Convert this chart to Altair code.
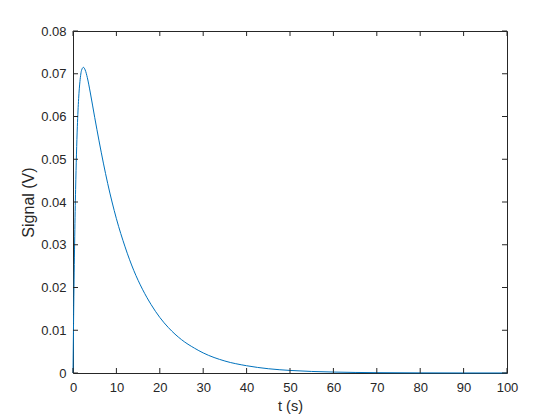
import altair as alt
import pandas as pd

# Data
t_vals = [0, 0.2, 0.4, 0.6, 0.8, 1.0, 1.3, 1.6, 2.0, 2.4, 2.8, 3.3, 4, 5, 6, 7, 8, 9, 10,
          12, 14, 16, 18, 20, 22, 25, 28, 30, 35, 40, 45, 50, 60, 70, 80, 90, 100]
signal = [0.0, 0.0179, 0.0320, 0.0429, 0.0512, 0.0576, 0.0642, 0.0682, 0.0709, 0.0715,
          0.0709, 0.0691, 0.0655, 0.0598, 0.0543, 0.0491, 0.0443, 0.0400, 0.0361,
          0.0295, 0.0240, 0.0196, 0.0160, 0.0130, 0.0106, 0.0078, 0.0058, 0.0047,
          0.0028, 0.0017, 0.0010, 0.0006, 0.00022, 0.00008, 0.00003, 0.00001, 0.000004]
x_ticks = [0, 10, 20, 30, 40, 50, 60, 70, 80, 90, 100]
y_ticks = [0, 0.01, 0.02, 0.03, 0.04, 0.05, 0.06, 0.07, 0.08]

W, H = 434, 342
FONT = "Liberation Sans"
INK = "#262626"

df = pd.DataFrame({"t": t_vals, "signal": signal})
dx = pd.DataFrame({"t": x_ticks})
dy = pd.DataFrame({"signal": y_ticks})

xscale = alt.Scale(domain=[0, 100], nice=False, zero=False)
yscale = alt.Scale(domain=[0, 0.08], nice=False, zero=False)

xaxis = alt.Axis(values=x_ticks, title="t (s)", tickSize=0, domain=False, grid=False,
                 labelPadding=8, labelFontSize=13, labelColor=INK, labelFont=FONT,
                 titleFont=FONT, titleFontSize=14.5, titleFontWeight="normal",
                 titleColor=INK, titlePadding=5, labelFlush=False)
yaxis = alt.Axis(values=y_ticks, title="Signal (V)", tickSize=0, domain=False, grid=False,
                 labelPadding=7, labelFontSize=13, labelColor=INK, labelFont=FONT,
                 titleFont=FONT, titleFontSize=16, titleFontWeight="normal",
                 titleColor=INK, titlePadding=4, labelFlush=False,
                 labelExpr="datum.value == 0 ? '0' : format(datum.value, '.2f')")

line = alt.Chart(df).mark_line(color="#0072BD", strokeWidth=1, interpolate="monotone").encode(
    x=alt.X("t:Q", scale=xscale, axis=xaxis),
    y=alt.Y("signal:Q", scale=yscale, axis=yaxis),
)

tick_style = dict(color=INK, strokeWidth=1)
xb = alt.Chart(dx).mark_rule(**tick_style).encode(
    x=alt.X("t:Q", scale=xscale, axis=xaxis), y=alt.value(H), y2=alt.value(H - 5))
xt = alt.Chart(dx).mark_rule(**tick_style).encode(
    x=alt.X("t:Q", scale=xscale, axis=xaxis), y=alt.value(0), y2=alt.value(5))
yl = alt.Chart(dy).mark_rule(**tick_style).encode(
    y=alt.Y("signal:Q", scale=yscale, axis=yaxis), x=alt.value(0), x2=alt.value(5))
yr = alt.Chart(dy).mark_rule(**tick_style).encode(
    y=alt.Y("signal:Q", scale=yscale, axis=yaxis), x=alt.value(W), x2=alt.value(W - 5))

chart = alt.layer(line, xb, xt, yl, yr).properties(
    width=W, height=H,
    autosize="none",
    padding={"left": 65, "top": 23, "right": 45, "bottom": 47},
).configure(background="white").configure_view(stroke=INK, strokeWidth=1)

chart.save("out.html", embed_options={"renderer": "svg", "actions": False})
